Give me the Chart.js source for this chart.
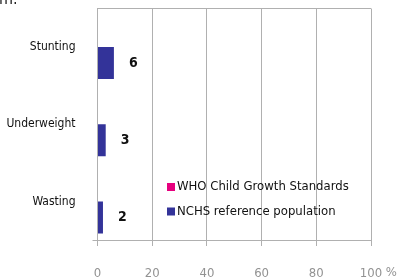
<!DOCTYPE html>
<html>
<head>
<meta charset="utf-8">
<script src="https://cdn.jsdelivr.net/npm/chart.js@4.4.1/dist/chart.umd.min.js"></script>
<style>
html,body{margin:0;padding:0;background:#fff;}
#wrap{width:397px;height:280px;position:relative;}
</style>
</head>
<body>
<div id="wrap"><canvas id="c" width="397" height="280"></canvas></div>
<script>
const categories = ['Stunting', 'Underweight', 'Wasting'];
const whoValues = [null, null, null];
const nchsValues = [6, 3, 2];
const xTicks = [0, 20, 40, 60, 80, 100];
const seriesLabels = ['WHO Child Growth Standards', 'NCHS reference population'];

const FONT = "'Liberation Sans Narrow', 'DejaVu Sans Condensed', 'Arial Narrow', sans-serif";
const PINK = '#e6007e';
const BLUE = '#333399';
const GRID = '#b0b0b0';

const extras = {
  id: 'extras',
  afterDatasetsDraw(chart) {
    const ctx = chart.ctx;
    ctx.save();
    const meta = chart.getDatasetMeta(1);
    ctx.font = "bold 14px " + FONT;
    ctx.fillStyle = '#111';
    ctx.textBaseline = 'middle';
    ctx.textAlign = 'left';
    meta.data.forEach((bar, i) => {
      const v = chart.data.datasets[1].data[i];
      if (v == null) return;
      ctx.fillText(String(v), bar.x + 15, bar.y);
    });
    ctx.font = "13px " + FONT;
    const lx = 167, ly = [187, 211.5];
    chart.data.datasets.forEach((ds, i) => {
      ctx.fillStyle = ds.backgroundColor;
      ctx.fillRect(lx, ly[i] - 4, 8, 8);
      ctx.fillStyle = '#111';
      ctx.fillText(ds.label, lx + 10, ly[i]);
    });
    const xs = chart.scales.x;
    ctx.font = "13px " + FONT;
    ctx.fillStyle = '#929292';
    const last = xTicks[xTicks.length - 1];
    const px = xs.getPixelForValue(last);
    const w = ctx.measureText(String(last)).width;
    ctx.textBaseline = 'middle';
    ctx.fillText(' %', px + w / 2, 273);
    ctx.font = "16px " + FONT;
    ctx.fillStyle = '#222';
    ctx.textBaseline = 'alphabetic';
    ctx.fillText('m.', -1, 4);
    ctx.restore();
  }
};

function noPad(s) { s.paddingTop = 0; s.paddingBottom = 0; s.paddingLeft = 0; s.paddingRight = 0; }

new Chart(document.getElementById('c'), {
  type: 'bar',
  data: {
    labels: categories,
    datasets: [
      { label: seriesLabels[0], data: whoValues, backgroundColor: PINK },
      { label: seriesLabels[1], data: nchsValues, backgroundColor: BLUE }
    ]
  },
  options: {
    indexAxis: 'y',
    responsive: false,
    animation: false,
    devicePixelRatio: 1,
    categoryPercentage: 0.83,
    barPercentage: 1.0,
    layout: { padding: { top: 8.5, right: 26, left: 0, bottom: 0 } },
    plugins: { legend: { display: false }, tooltip: { enabled: false } },
    scales: {
      x: {
        min: 0, max: 100,
        afterBuildTicks(s) { s.ticks = xTicks.map(v => ({ value: v })); },
        afterFit(s) { s.height = 40; noPad(s); },
        border: { display: true, color: GRID, width: 1 },
        grid: { color: GRID, lineWidth: 1, drawTicks: true, tickLength: 6, tickColor: GRID },
        ticks: {
          color: '#929292',
          font: { family: FONT, size: 13 },
          padding: 20,
          maxRotation: 0,
          callback: (v) => String(v)
        }
      },
      y: {
        afterFit(s) { s.width = 97.5; noPad(s); },
        border: { display: true, color: GRID, width: 1 },
        grid: {
          offset: true,
          lineWidth: 1,
          color: (c) => (c.type === 'scale' || c.index === 0) ? GRID : 'rgba(0,0,0,0)',
          drawTicks: true,
          tickLength: 5,
          tickColor: (c) => (c.type === 'scale') ? GRID : 'rgba(0,0,0,0)'
        },
        ticks: {
          color: '#111',
          font: { family: FONT, size: 12 },
          padding: 17
        }
      }
    }
  },
  plugins: [extras]
});
</script>
</body>
</html>
